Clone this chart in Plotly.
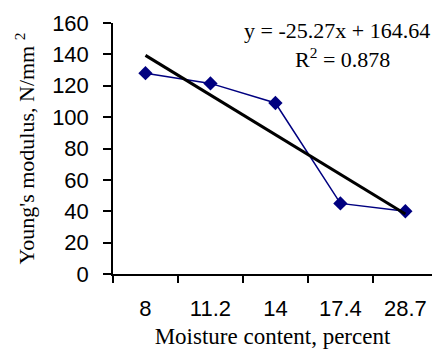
import plotly.graph_objects as go

categories = ["8", "11.2", "14", "17.4", "28.7"]
youngs_modulus = [128, 121.5, 109, 45, 40]
slope = -25.27
intercept = 164.64
r_squared = 0.878
y_ticks = [0, 20, 40, 60, 80, 100, 120, 140, 160]

x_pos = list(range(1, len(categories) + 1))
trend = [slope * x + intercept for x in x_pos]

fig = go.Figure()
fig.add_trace(go.Scatter(
    x=x_pos, y=youngs_modulus, mode="lines+markers",
    line=dict(color="#000080", width=1.5),
    marker=dict(symbol="diamond", size=11, color="#000080"),
    showlegend=False, cliponaxis=False))
fig.add_trace(go.Scatter(
    x=x_pos, y=trend, mode="lines",
    line=dict(color="black", width=3),
    showlegend=False, cliponaxis=False))

fig.add_annotation(
    xref="paper", yref="paper", x=1.0, y=1.0, xanchor="right", yanchor="middle",
    yshift=-7,
    text=f"y = {slope:.2f}x + {intercept:.2f}", showarrow=False,
    font=dict(family="Liberation Serif", size=22, color="black"))
fig.add_annotation(
    xref="paper", yref="paper", x=0.72, y=1.0, xanchor="center", yanchor="middle",
    yshift=-35,
    text=f"R<sup>2</sup> = {r_squared}", showarrow=False,
    font=dict(family="Liberation Serif", size=22, color="black"))
fig.add_annotation(
    xref="paper", yref="paper", x=0, y=0.5, xanchor="center", yanchor="middle",
    xshift=-89, textangle=-90,
    text="Young's modulus, N/mm <sup>2</sup>", showarrow=False,
    font=dict(family="Liberation Serif", size=22, color="black"))

fig.update_layout(
    width=432, height=349,
    margin=dict(l=113, r=0, t=23, b=75),
    paper_bgcolor="white", plot_bgcolor="white",
    font=dict(family="Liberation Sans", size=22, color="black"),
    xaxis=dict(
        range=[0.5, 5.41], tickmode="array", tickvals=x_pos, ticktext=categories,
        ticks="", showgrid=False, zeroline=False,
        showline=True, linecolor="black", linewidth=1.5,
        ticklabelstandoff=14,
        minor=dict(ticks="outside", tickvals=[0.5, 1.5, 2.5, 3.5, 4.5],
                   ticklen=7, tickcolor="black", tickwidth=1.5, showgrid=False),
        title=dict(text="Moisture content, percent", standoff=8,
                   font=dict(family="Liberation Serif", size=23)),
    ),
    yaxis=dict(
        range=[0, 160], tickmode="array", tickvals=y_ticks,
        ticks="outside", ticklen=8, tickwidth=1.5, tickcolor="black",
        showgrid=False, zeroline=False,
        showline=True, linecolor="black", linewidth=1.5,
        ticklabelstandoff=10,
    ),
)

fig.write_html("out.html")
